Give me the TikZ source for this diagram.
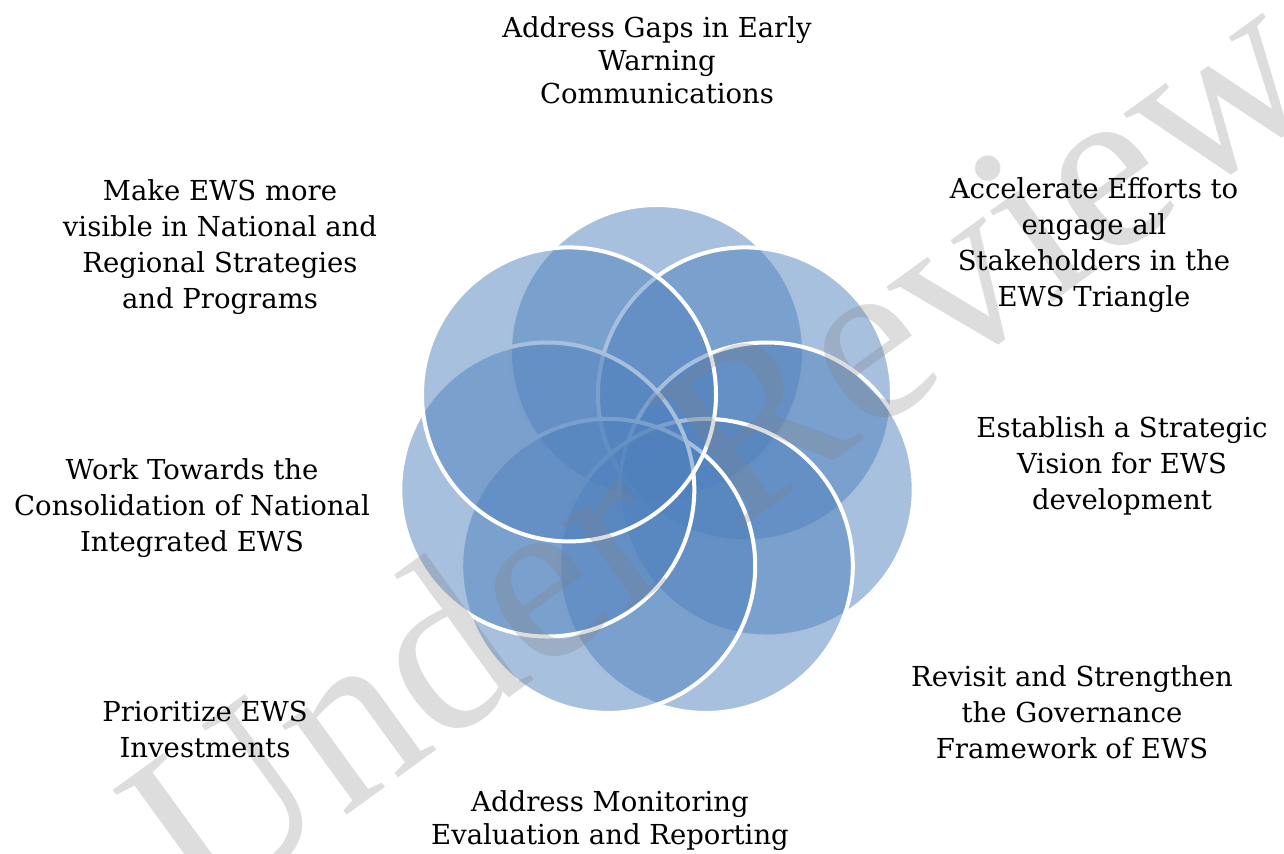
\documentclass[tikz,border=0pt]{standalone}
\usepackage{fontspec}
\setmainfont{DejaVu Serif}
\newfontfamily\wmfont{Liberation Serif}
\definecolor{ewsblue}{HTML}{4F81BD}

\begin{document}
\begin{tikzpicture}[x=0.5pt,y=-0.5pt,
    ring/.style={circle,draw=white,line width=2pt,fill=ewsblue,fill opacity=0.5,minimum size=147pt,inner sep=0pt},
    lbl/.style={align=center,inner sep=0pt,font=\fontsize{13.75}{18}\selectfont},
    watermark/.style={black!50,opacity=0.27,rotate=36,inner sep=0pt,font=\wmfont\fontsize{120}{120}\selectfont}]
    \useasboundingbox (0,0) rectangle (1284,853);

    \node[ring] (c1) at (657,352) {};
    \node[ring] (c2) at (745,394.4) {};
    \node[ring] (c3) at (766.7,489.5) {};
    \node[ring] (c4) at (705.8,565.9) {};
    \node[ring] (c5) at (608.2,565.9) {};
    \node[ring] (c6) at (547.3,489.5) {};
    \node[ring] (c7) at (569,394.4) {};

    \node[watermark] (w) at (717,445) {Under Review};

    \node[lbl,font=\fontsize{13.75}{16.5}\selectfont] (t1) at (657,60) {Address Gaps in Early\\Warning\\Communications};
    \node[lbl] (t2) at (1094,245) {Accelerate Efforts to\\engage all\\Stakeholders in the\\EWS Triangle};
    \node[lbl] (t3) at (1122,466) {Establish a Strategic\\Vision for EWS\\development};
    \node[lbl] (t4) at (1072,712) {Revisit and Strengthen\\the Governance\\Framework of EWS};
    \node[lbl,font=\fontsize{13.75}{16.5}\selectfont] (t5) at (610,821) {Address Monitoring\\Evaluation and Reporting};
    \node[lbl] (t6) at (205,729) {Prioritize EWS\\Investments};
    \node[lbl] (t7) at (192,508) {Work Towards the\\Consolidation of National\\Integrated EWS};
    \node[lbl] (t8) at (220,247) {Make EWS more\\visible in National and\\Regional Strategies\\and Programs};
\end{tikzpicture}
\end{document}
